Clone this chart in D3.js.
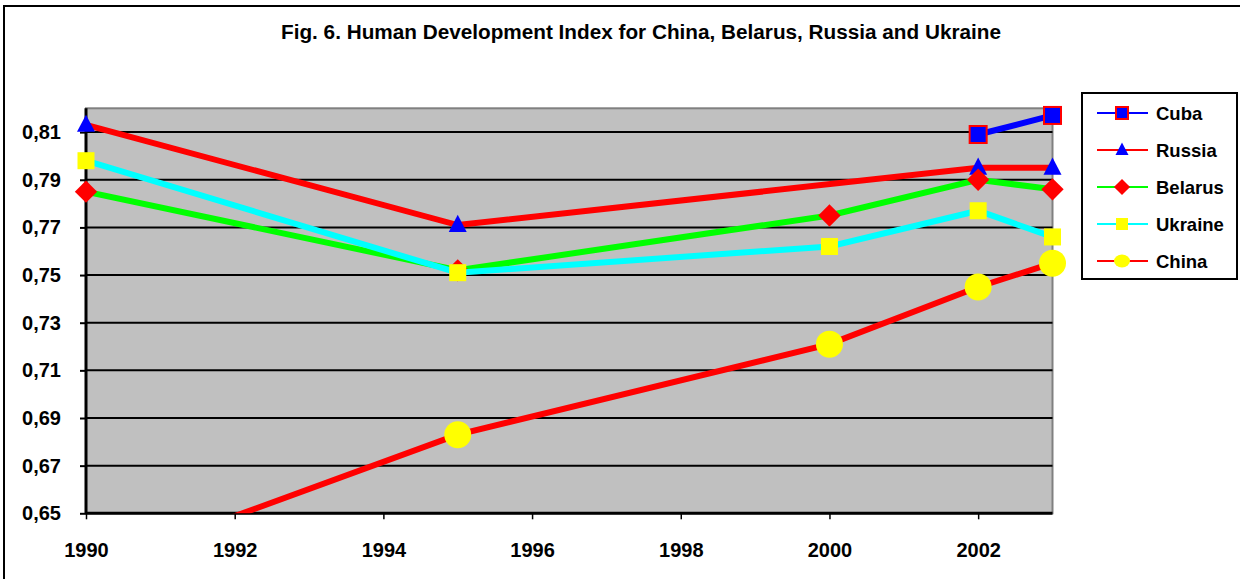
<!DOCTYPE html>
<html><head><meta charset="utf-8">
<script src="https://cdn.jsdelivr.net/npm/d3@7"></script>
<style>
html,body{margin:0;padding:0;background:#fff;overflow:hidden}
text{font-family:"Liberation Sans",Arial,sans-serif;font-weight:bold;fill:#000}
</style></head>
<body>
<svg id="chart" width="1240" height="579"></svg>
<script>
const title = "Fig. 6. Human Development Index for China, Belarus, Russia and Ukraine";
const years = [1990, 1995, 2000, 2002, 2003];
const cuba    = [null,  null,  null,  0.809, 0.817];
const russia  = [0.813, 0.771, null,  0.795, 0.795];
const belarus = [0.785, 0.752, 0.775, 0.790, 0.786];
const ukraine = [0.798, 0.751, 0.762, 0.777, 0.766];
const china   = [0.626, 0.683, 0.721, 0.745, 0.755];
const xTicks = [1990, 1992, 1994, 1996, 1998, 2000, 2002];
const yTicks = [0.65, 0.67, 0.69, 0.71, 0.73, 0.75, 0.77, 0.79, 0.81];
const seriesNames = ["Cuba", "Russia", "Belarus", "Ukraine", "China"];

const seriesDefs = [
  {name: "Cuba",    values: cuba,    line: "#0000FF", marker: "square",   fill: "#0000FF", stroke: "#FF0000"},
  {name: "Russia",  values: russia,  line: "#FF0000", marker: "triangle", fill: "#0000FF", stroke: "none"},
  {name: "Belarus", values: belarus, line: "#00FF00", marker: "diamond",  fill: "#FF0000", stroke: "none"},
  {name: "Ukraine", values: ukraine, line: "#00FFFF", marker: "square",   fill: "#FFFF00", stroke: "none"},
  {name: "China",   values: china,   line: "#FF0000", marker: "circle",   fill: "#FFFF00", stroke: "none"}
];

const svg = d3.select("#chart");
const L = 86, R = 1052.5, T = 108.3, B = 513.3;
const x = d3.scaleLinear().domain([1990, 2003]).range([L, R]);
const y = d3.scaleLinear().domain([0.65, 0.82]).range([B, T]);

// outer chart border
svg.append("rect").attr("x", 4).attr("y", 6).attr("width", 1250).attr("height", 600)
  .attr("fill", "#fff").attr("stroke", "#000").attr("stroke-width", 2);

// title
svg.append("text").attr("x", 641).attr("y", 39).attr("text-anchor", "middle")
  .attr("font-size", 20).attr("textLength", 720).attr("lengthAdjust", "spacingAndGlyphs")
  .text(title);

// plot area
svg.append("rect").attr("x", L).attr("y", T).attr("width", R - L).attr("height", B - T)
  .attr("fill", "#C0C0C0").attr("stroke", "#808080").attr("stroke-width", 2);

// gridlines
svg.append("g").selectAll("line").data(yTicks.filter(d => d > 0.65)).join("line")
  .attr("x1", L).attr("x2", R).attr("y1", d => y(d)).attr("y2", d => y(d))
  .attr("stroke", "#000").attr("stroke-width", 2);

// y axis
const yAxis = d3.axisLeft(y).tickValues(yTicks).tickSize(6).tickPadding(18)
  .tickFormat(d => d3.format(".2f")(d).replace(".", ","));
const gy = svg.append("g").attr("transform", `translate(${L},0)`).call(yAxis);
gy.select(".domain").attr("stroke", "#000").attr("stroke-width", 3).attr("d", `M0,${T}V${B}`);
gy.selectAll(".tick line").attr("stroke", "#000").attr("stroke-width", 2);
gy.selectAll(".tick text").attr("font-size", 20).attr("font-family", "Liberation Sans, Arial, sans-serif")
  .attr("font-weight", "bold").attr("fill", "#000").attr("dx", "-1");

// x axis
const xAxis = d3.axisBottom(x).tickValues(xTicks).tickSize(6).tickPadding(24)
  .tickFormat(d3.format("d"));
const gx = svg.append("g").attr("transform", `translate(0,${B})`).call(xAxis);
gx.select(".domain").attr("stroke", "#000").attr("stroke-width", 3).attr("d", `M${L},0H${R}`);
gx.selectAll(".tick line").attr("stroke", "#000").attr("stroke-width", 1.5);
gx.selectAll(".tick text").attr("font-size", 20).attr("font-family", "Liberation Sans, Arial, sans-serif")
  .attr("font-weight", "bold").attr("fill", "#000");

// clip for lines
svg.append("clipPath").attr("id", "plotclip").append("rect")
  .attr("x", L).attr("y", T - 10).attr("width", R - L + 10).attr("height", B - T + 10);

function drawMarker(g, type, fill, stroke, size) {
  if (type === "square") {
    g.append("rect").attr("x", -size/2).attr("y", -size/2).attr("width", size).attr("height", size)
      .attr("fill", fill).attr("stroke", stroke).attr("stroke-width", stroke === "none" ? 0 : 2);
  } else if (type === "triangle") {
    const h = size * 0.95;
    g.append("path").attr("d", `M0,${-h*0.6}L${size/2},${h*0.4}L${-size/2},${h*0.4}Z`).attr("fill", fill);
  } else if (type === "diamond") {
    const s = size * 0.62;
    g.append("path").attr("d", `M0,${-s}L${s},0L0,${s}L${-s},0Z`).attr("fill", fill);
  } else if (type === "circle") {
    g.append("circle").attr("r", size/2).attr("fill", fill);
  }
}

const markerSize = {square: 17, triangle: 18, diamond: 18, circle: 27};
const lineGen = d3.line().x(d => x(d.year)).y(d => y(d.value));

seriesDefs.forEach(s => {
  const pts = years.map((yr, i) => ({year: yr, value: s.values[i]})).filter(d => d.value != null);
  svg.append("path").datum(pts).attr("d", lineGen).attr("fill", "none")
    .attr("stroke", s.line).attr("stroke-width", 6).attr("clip-path", "url(#plotclip)");
  pts.filter(d => d.value >= 0.65 && d.value <= 0.82).forEach(d => {
    const g = svg.append("g").attr("transform", `translate(${x(d.year)},${y(d.value)})`);
    drawMarker(g, s.marker, s.fill, s.stroke, markerSize[s.marker]);
  });
});

// legend
const lg = svg.append("g");
lg.append("rect").attr("x", 1082).attr("y", 93).attr("width", 155).attr("height", 186)
  .attr("fill", "#fff").attr("stroke", "#000").attr("stroke-width", 2);
const legendY = d3.scalePoint().domain(seriesNames).range([113, 261]);
seriesDefs.forEach(s => {
  const cy = legendY(s.name);
  lg.append("line").attr("x1", 1097).attr("x2", 1148).attr("y1", cy).attr("y2", cy)
    .attr("stroke", s.line).attr("stroke-width", 2);
  const g = lg.append("g").attr("transform", `translate(1122,${cy})`);
  const sz = {square: 12, triangle: 13, diamond: 13, circle: 13}[s.marker];
  if (s.marker === "circle") {
    g.append("ellipse").attr("rx", 8).attr("ry", 6.5).attr("fill", s.fill);
  } else {
    drawMarker(g, s.marker, s.fill, s.stroke, sz);
  }
  lg.append("text").attr("x", 1156).attr("y", cy + 6.5).attr("font-size", 18.5).text(s.name);
});
</script>
</body></html>
